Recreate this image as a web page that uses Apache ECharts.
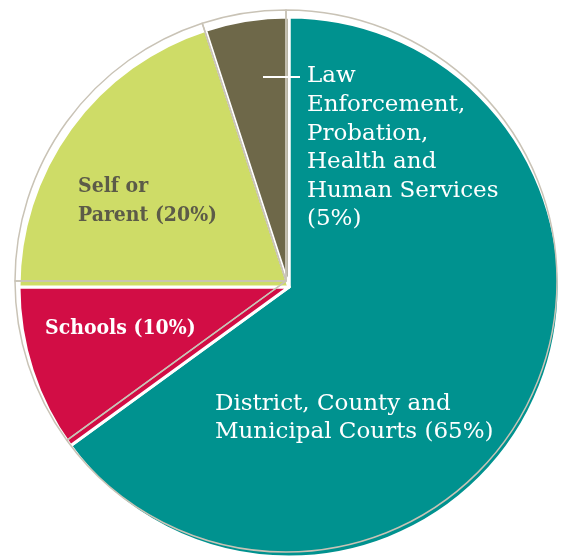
<!DOCTYPE html>
<html>
<head>
<meta charset="utf-8">
<script src="https://cdn.jsdelivr.net/npm/echarts@6/dist/echarts.min.js"></script>
<style>html,body{margin:0;padding:0;background:#fff}#c{width:566px;height:556px}</style>
</head>
<body>
<div id="c"></div>
<script>
const categories = ['District, County and\nMunicipal Courts (65%)', 'Schools (10%)', 'Self or\nParent (20%)', 'Law\nEnforcement,\nProbation,\nHealth and\nHuman Services\n(5%)'];
const values = [65, 10, 20, 5];
const colors = ['#00928F', '#D20D45', '#CEDC67', '#6E6849'];
const textColors = ['#ffffff', '#ffffff', '#5C5B48', '#ffffff'];
const fontWeights = ['normal', 'bold', 'bold', 'normal'];
const fontFamilies = ['DejaVu Serif', 'DejaVu Serif Condensed', 'DejaVu Serif Condensed', 'DejaVu Serif'];
const fontSizes = [23, 21, 21, 23];
const labelPos = [[215, 418], [45, 329], [78, 201], [307, 148]];

const chart = echarts.init(document.getElementById('c'), null, {renderer: 'canvas'});
const data = categories.map((n, i) => ({
  name: n, value: values[i],
  itemStyle: {color: colors[i]},
  label: {color: textColors[i], fontWeight: fontWeights[i], fontFamily: fontFamilies[i], fontSize: fontSizes[i]}
}));
chart.setOption({
  animation: false,
  series: [{
    type: 'pie',
    center: [289, 287],
    radius: [0, 270],
    startAngle: 90,
    clockwise: true,
    silent: true,
    itemStyle: {borderColor: '#ffffff', borderWidth: 3},
    label: {
      show: true, position: 'inside',
      fontFamily: 'DejaVu Serif', fontSize: 23, lineHeight: 28.6,
      align: 'left', verticalAlign: 'middle'
    },
    labelLine: {show: false},
    labelLayout: function (p) {
      const pos = labelPos[p.dataIndex];
      return {x: pos[0], y: pos[1], align: 'left', verticalAlign: 'middle'};
    },
    data: data
  }, {
    type: 'pie',
    center: [286, 281],
    radius: [0, 271],
    startAngle: 90,
    clockwise: true,
    silent: true,
    label: {show: false},
    labelLine: {show: false},
    itemStyle: {color: 'rgba(0,0,0,0)', borderColor: '#C9C3B6', borderWidth: 1.5},
    data: values.map((v, i) => ({name: 'o' + i, value: v}))
  }],
  graphic: [{
    type: 'line', silent: true,
    shape: {x1: 263, y1: 77, x2: 300, y2: 77},
    style: {stroke: '#ffffff', lineWidth: 2}, z: 100
  }]
});
</script>
</body>
</html>
